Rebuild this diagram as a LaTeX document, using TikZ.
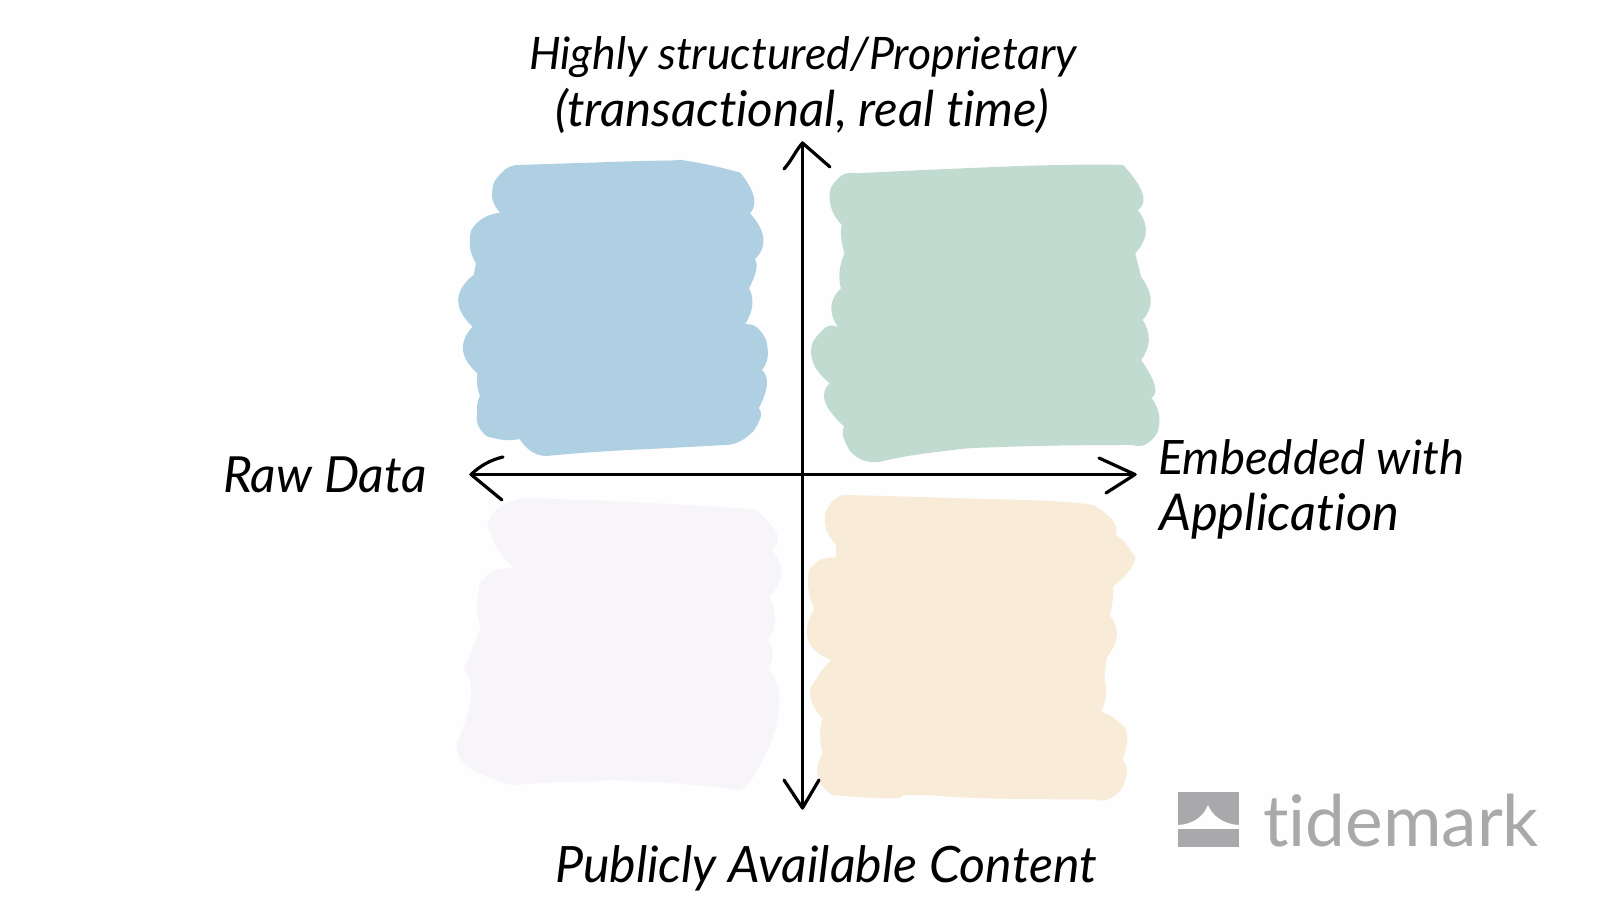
\documentclass[tikz,border=0pt]{standalone}
\usepackage{graphicx}
\usepackage{fontspec}
\setmainfont{Lato}[Ligatures=NoCommon]
\definecolor{bluefill}{HTML}{AFCFE2}
\definecolor{greenfill}{HTML}{C1DBD1}
\definecolor{creamfill}{HTML}{F8ECD8}
\definecolor{mistfill}{HTML}{F7F5F9}
\definecolor{logogray}{HTML}{A9A9AB}
\tikzset{
  blob/.style={smooth,tension=1},
  zoomupper/.style={shift={(430,130)},x=0.48469pt,y=-0.33333pt},
  zoomlower/.style={shift={(430,470)},x=0.48469pt,y=-0.33333pt},
  axisline/.style={line width=3.2pt,black,line cap=round,line join=round},
  barb/.style={line width=3.2pt,black,line cap=round,line join=round},
  handtext/.style={anchor=base west,inner sep=0pt,outer sep=0pt,text=black,font=\fontsize{40}{48}\selectfont\itshape},
  logotext/.style={anchor=base west,inner sep=0pt,outer sep=0pt,text=logogray,font=\fontsize{74}{80}\selectfont}
}
\begin{document}
\begin{tikzpicture}[x=1pt,y=-1pt]
\useasboundingbox (0,0) rectangle (1600,904);
\fill[white!99.6!black] (0,0) rectangle (1600,904);

% blue patch
\begin{scope}[zoomupper]
\fill[bluefill,blob]
  plot coordinates {(145,248)(128,190)(150,125)(185,105)}
  -- plot coordinates {(185,105)(330,98)(480,92)(540,95)(640,128)}
  -- plot coordinates {(640,128)(668,200)(660,250)}
  -- plot coordinates {(660,250)(688,325)(670,388)}
  -- plot coordinates {(670,388)(673,420)(658,475)}
  -- plot coordinates {(658,475)(665,525)(650,583)}
  -- plot coordinates {(650,583)(680,600)(697,665)(685,720)}
  -- plot coordinates {(685,720)(695,765)(678,835)}
  -- plot coordinates {(678,835)(680,870)(650,925)(610,945)}
  -- plot coordinates {(610,945)(480,955)(350,965)(240,978)}
  -- plot coordinates {(240,978)(210,965)(185,927)}
  -- plot coordinates {(185,927)(140,927)(105,900)(97,840)(103,798)}
  -- plot coordinates {(103,798)(97,760)(98,730)}
  -- plot coordinates {(98,730)(68,660)(88,590)}
  -- plot coordinates {(88,590)(58,510)(90,435)}
  -- plot coordinates {(95,400)(82,335)(100,275)(145,248)}
  -- cycle;
% green patch
\fill[greenfill,blob]
  plot coordinates {(880,130)(1100,115)(1300,105)(1430,105)}
  -- plot coordinates {(1430,105)(1470,190)(1460,240)}
  -- plot coordinates {(1460,240)(1477,305)(1455,370)}
  -- plot coordinates {(1455,370)(1467,440)}
  -- plot coordinates {(1467,440)(1487,510)(1470,570)}
  -- plot coordinates {(1470,570)(1483,630)(1467,690)}
  -- plot coordinates {(1467,690)(1495,765)(1488,803)}
  -- plot coordinates {(1488,803)(1505,870)(1485,935)(1450,945)}
  -- plot coordinates {(1450,945)(1200,950)(1050,965)(930,995)}
  -- plot coordinates {(930,995)(885,985)(855,930)(855,890)}
  -- plot coordinates {(855,890)(815,815)(825,760)}
  -- plot coordinates {(825,760)(787,680)(810,600)(842,592)}
  -- plot coordinates {(842,592)(828,530)(848,475)}
  -- plot coordinates {(848,475)(845,425)(855,370)}
  -- plot coordinates {(855,370)(848,320)(850,285)}
  -- plot coordinates {(850,285)(825,215)(842,145)(880,130)}
  -- cycle;
\end{scope}

\begin{scope}[zoomlower]
% pale patch
\fill[mistfill,blob]
  plot coordinates {(175,295)(130,210)(130,130)(190,85)}
  -- plot coordinates {(190,85)(400,95)(670,118)}
  -- plot coordinates {(670,118)(715,190)(705,240)}
  -- plot coordinates {(705,240)(725,310)(700,380)}
  -- plot coordinates {(700,380)(712,450)(697,510)}
  -- plot coordinates {(697,510)(707,550)(697,600)}
  -- plot coordinates {(697,600)(720,670)(710,790)}
  -- plot coordinates {(710,790)(665,925)(630,958)}
  -- plot coordinates {(630,958)(450,935)(300,935)(170,945)}
  -- plot coordinates {(170,945)(75,885)(58,810)}
  -- plot coordinates {(58,810)(85,680)(70,600)}
  -- plot coordinates {(70,600)(105,470)}
  -- plot coordinates {(105,470)(98,390)(120,315)(175,295)}
  -- cycle;
% cream patch
\fill[creamfill,blob]
  plot coordinates {(838,225)(815,160)(830,95)(860,75)}
  -- plot coordinates {(860,75)(1100,85)(1300,95)(1375,110)}
  -- plot coordinates {(1375,110)(1410,155)(1415,195)}
  -- plot coordinates {(1415,195)(1445,240)(1450,285)(1410,348)}
  -- plot coordinates {(1410,348)(1408,395)(1402,437)}
  -- plot coordinates {(1402,437)(1417,495)(1397,560)}
  -- plot coordinates {(1397,560)(1392,620)(1395,670)(1385,725)}
  -- plot coordinates {(1385,725)(1420,755)(1438,800)(1428,870)}
  -- plot coordinates {(1428,870)(1437,915)(1410,980)(1370,988)}
  -- plot coordinates {(1370,988)(1150,985)(1000,975)(950,985)(830,975)}
  -- plot coordinates {(830,975)(800,920)(810,850)}
  -- plot coordinates {(810,850)(805,790)(810,745)}
  -- plot coordinates {(810,745)(785,680)(800,620)(828,570)}
  -- plot coordinates {(828,570)(780,510)(793,415)}
  -- plot coordinates {(793,415)(780,340)(795,280)(838,262)}
  -- cycle;
\end{scope}

% axes
\coordinate (tipup) at (802.5,143);
\coordinate (tipdown) at (802.5,808);
\coordinate (tipleft) at (471,474.5);
\coordinate (tipright) at (1135,474.5);
\coordinate (upL) at (784,169);
\coordinate (upR) at (830,167);
\coordinate (downL) at (784,780);
\coordinate (downR) at (819,780);
\coordinate (leftU) at (503,457);
\coordinate (leftD) at (502,500);
\coordinate (rightU) at (1099,458);
\coordinate (rightD) at (1106,493);
\draw[axisline] (tipdown) -- (tipup);
\draw[axisline] (tipleft) -- (tipright);
\draw[barb] (upL) .. controls (792,160) and (796,150) .. (tipup) -- (upR);
\draw[barb] (downL) -- (tipdown) -- (downR);
\draw[barb] (leftU) .. controls (490,460) and (480,466) .. (tipleft) -- (leftD);
\draw[barb] (rightU) -- (tipright) -- (rightD);

% labels
\node[handtext] (top1) at (529,70) {\resizebox{548pt}{!}{Highly structured/Proprietary}};
\node[handtext] (top2) at (555,127) {\resizebox{494pt}{!}{(transactional, real time)}};
\node[handtext] (bottomlabel) at (555,882) {\resizebox{542pt}{!}{Publicly Available Content}};
\node[handtext] (rightlabel1) at (1158,474) {\resizebox{306pt}{!}{Embedded with}};
\node[handtext] (rightlabel2) at (1159,530) {\resizebox{240pt}{!}{Application}};
\node[handtext] (leftlabel) at (223,492) {\resizebox{204pt}{!}{Raw Data}};

% logo
\fill[logogray] (1178,792) rectangle (1239,825);
\fill[white!99.6!black] (1178,825) .. controls (1195,824) and (1204,815) .. (1208,805)
  .. controls (1212,815) and (1222,824) .. (1239,825) -- cycle;
\fill[logogray] (1178,829) rectangle (1239,847);
\node[logotext] (logoword) at (1263,846) {\resizebox{276pt}{!}{tidemark}};
\end{tikzpicture}
\end{document}
